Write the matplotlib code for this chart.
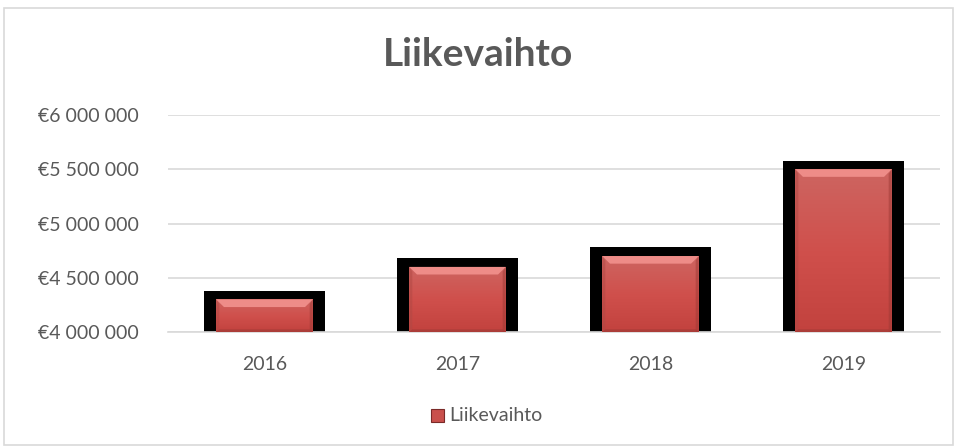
import matplotlib.pyplot as plt
import numpy as np
from matplotlib.patches import Rectangle, Polygon
from matplotlib.colors import LinearSegmentedColormap
from matplotlib.ticker import FuncFormatter

# data
years = ['2016', '2017', '2018', '2019']
revenue = [4300000, 4600000, 4700000, 5500000]
y_ticks = [4000000, 4500000, 5000000, 5500000, 6000000]

plt.rcParams['font.family'] = ['Lato', 'DejaVu Sans']

fig = plt.figure(figsize=(9.57, 4.48), dpi=100)
ax = fig.add_axes([168 / 957, 1 - 332 / 448, 772 / 957, 217 / 448])

# outer chart border
fig.patches.append(Rectangle((4 / 957, 3 / 448), 949 / 957, 437 / 448,
                             transform=fig.transFigure, fill=False,
                             edgecolor='#d9d9d9', linewidth=1.2))

ax.set_xlim(-0.5, len(years) - 0.5)
ax.set_ylim(4000000, 6000000)
ax.set_yticks(y_ticks)
ax.yaxis.set_major_formatter(FuncFormatter(
    lambda v, p: '€' + '{:,.0f}'.format(v).replace(',', ' ')))
ax.set_xticks(range(len(years)))
ax.set_xticklabels(years)
ax.tick_params(length=0, labelsize=14, colors='#595959')
ax.tick_params(axis='x', pad=17)
ax.tick_params(axis='y', pad=21)
for s in ['left', 'right', 'top']:
    ax.spines[s].set_visible(False)
ax.spines['bottom'].set_color('#d9d9d9')
ax.spines['bottom'].set_linewidth(1.2)
ax.grid(axis='y', color='#d9d9d9', linewidth=1.2)
ax.set_axisbelow(True)

# bars: black shadow + red bevelled bar
grad = np.linspace(0, 1, 256).reshape(-1, 1)
cmap = LinearSegmentedColormap.from_list('r', ['#c2423e', '#d0504c', '#cd6561'])
bx = 0.04
by = 70000
for i, v in enumerate(revenue):
    ax.add_patch(Rectangle((i - 0.315, 3990000), 0.63, v + 80000 - 3990000,
                           facecolor='black', edgecolor='none', zorder=2))
    r = Rectangle((i - 0.25, 4000000), 0.5, v - 4000000,
                  facecolor='#d0504c', edgecolor='none', zorder=3)
    ax.add_patch(r)
    im = ax.imshow(grad, extent=(i - 0.25, i + 0.25, 4000000, v),
                   origin='lower', aspect='auto', cmap=cmap, zorder=3.5)
    im.set_clip_path(r)
    x0, x1 = i - 0.25, i + 0.25
    # top bevel
    ax.add_patch(Polygon([(x0, v), (x1, v), (x1 - bx, v - by), (x0 + bx, v - by)],
                         facecolor='#ee8c88', edgecolor='none', zorder=4))
    # left bevel
    ax.add_patch(Polygon([(x0, v), (x0 + bx * 0.4, v - by * 0.6),
                          (x0 + bx * 0.4, 4000000), (x0, 4000000)],
                         facecolor='#b04844', edgecolor='none', zorder=4, alpha=0.5))
    # right bevel
    ax.add_patch(Polygon([(x1, v), (x1 - bx * 0.4, v - by * 0.6),
                          (x1 - bx * 0.4, 4000000), (x1, 4000000)],
                         facecolor='#9e3a36', edgecolor='none', zorder=4, alpha=0.5))
    # bottom bevel
    ax.add_patch(Polygon([(x0, 4000000), (x1, 4000000), (x1 - bx * 0.4, 4000000 + by * 0.35),
                          (x0 + bx * 0.4, 4000000 + by * 0.35)],
                         facecolor='#a33b37', edgecolor='none', zorder=4, alpha=0.7))

fig.text(0.5, 1 - 55 / 448, 'Liikevaihto', ha='center', va='center',
         fontsize=28, fontweight='bold', color='#595959')

# legend
fig.patches.append(Rectangle((431 / 957, 1 - 422 / 448), 13 / 957, 13 / 448,
                             transform=fig.transFigure, facecolor='#c9504c',
                             edgecolor='#7a2a28', linewidth=0.8))
fig.text(449 / 957, 1 - 415 / 448, 'Liikevaihto', ha='left', va='center',
         fontsize=14, color='#595959')

fig.savefig('out.png', dpi=100)
